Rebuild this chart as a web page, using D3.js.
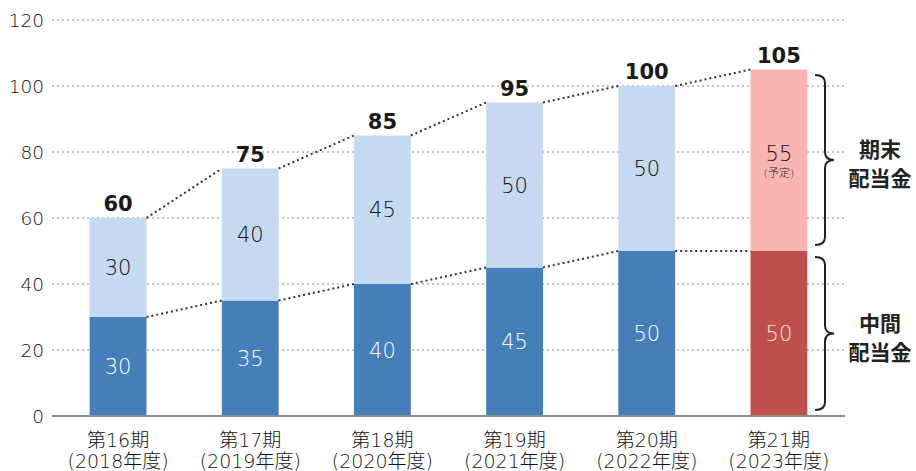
<!DOCTYPE html>
<html><head><meta charset="utf-8">
<script src="https://cdn.jsdelivr.net/npm/d3@7"></script>
<style>body{margin:0;background:#fff}svg{display:block}text{font-family:"DejaVu Sans","Noto Sans CJK JP",sans-serif}.lt{font-weight:200}</style>
</head><body><svg id="c" width="916" height="471"></svg>
<script>
const periods = ["第16期","第17期","第18期","第19期","第20期","第21期"];
const years = ["(2018年度)","(2019年度)","(2020年度)","(2021年度)","(2022年度)","(2023年度)"];
const interim = [30,35,40,45,50,50];
const yearEnd = [30,40,45,50,50,55];
const totals = [60,75,85,95,100,105];
const yTicks = [0,20,40,60,80,100,120];
const forecastIndex = 5;

const svg = d3.select("#c");
const x = d3.scaleBand().domain(periods).range([52,845]).paddingInner(0.57).paddingOuter(0.285);
const y = d3.scaleLinear().domain([0,120]).range([416,20]);

// grid
svg.append("g").selectAll("line").data(yTicks.filter(d=>d>0)).join("line")
  .attr("x1",52).attr("x2",845).attr("y1",d=>y(d)).attr("y2",d=>y(d))
  .attr("stroke","#8a8a8a").attr("stroke-width",1).attr("stroke-dasharray","2,3");
// y labels
svg.append("g").selectAll("text").data(yTicks).join("text").attr("class","lt")
  .attr("x",44).attr("y",d=>y(d)).attr("dy","0.36em").attr("text-anchor","end")
  .attr("font-size",18.5).attr("fill","#111").text(d=>d);

const bw = x.bandwidth();
const colI = (i)=> i===forecastIndex? "#C0504D":"#457EB9";
const colE = (i)=> i===forecastIndex? "#F8B5B2":"#C5D9F1";

// bars
periods.forEach((p,i)=>{
  svg.append("rect").attr("x",x(p)).attr("width",bw).attr("y",y(interim[i])).attr("height",y(0)-y(interim[i])).attr("fill",colI(i));
  svg.append("rect").attr("x",x(p)).attr("width",bw).attr("y",y(totals[i])).attr("height",y(interim[i])-y(totals[i])).attr("fill",colE(i));
});
// axis line
svg.append("line").attr("x1",52).attr("x2",845).attr("y1",y(0)).attr("y2",y(0)).attr("stroke","#8c8c8c").attr("stroke-width",2);

// connecting dotted lines
function connect(vals){
  for(let i=0;i<vals.length-1;i++){
    svg.append("line")
      .attr("x1",x(periods[i])+bw).attr("y1",y(vals[i]))
      .attr("x2",x(periods[i+1])).attr("y2",y(vals[i+1]))
      .attr("stroke","#333").attr("stroke-width",2).attr("stroke-dasharray","2,3");
  }
}
connect(totals);
connect(interim);

// segment labels
periods.forEach((p,i)=>{
  const cx = x(p)+bw/2;
  svg.append("text").attr("class","lt").attr("x",cx).attr("y",y(interim[i]/2)).attr("dy","0.36em").attr("text-anchor","middle")
    .attr("font-size",21).attr("fill",i===forecastIndex?"#fbe3e2":"#fff").text(interim[i]);
  const my = y(interim[i]+yearEnd[i]/2);
  svg.append("text").attr("class","lt").attr("x",cx).attr("y",i===forecastIndex? my-7 : my).attr("dy","0.36em").attr("text-anchor","middle")
    .attr("font-size",21).attr("fill","#111").text(yearEnd[i]);
  if(i===forecastIndex){
    svg.append("text").attr("class","lt").attr("x",cx).attr("y",my+13).attr("dy","0.36em").attr("text-anchor","middle")
      .attr("font-size",11).attr("fill","#222").text("(予定)");
  }
  svg.append("text").attr("x",cx).attr("y",y(totals[i])-7).attr("text-anchor","middle")
    .attr("font-size",21).attr("font-weight",700).attr("fill","#1a1a1a").text(totals[i]);
  svg.append("text").attr("class","lt").attr("x",cx).attr("y",447).attr("text-anchor","middle")
    .attr("font-size",19).attr("fill","#111").text(p);
  svg.append("text").attr("class","lt").attr("x",cx).attr("y",468).attr("text-anchor","middle")
    .attr("font-size",19).attr("fill","#111").text(years[i]);
});

// braces
function brace(top,bot,bx){
  const mid=(top+bot)/2, r=8;
  const path = `M${bx-10},${top} Q${bx},${top} ${bx},${top+r} L${bx},${mid-r} Q${bx},${mid} ${bx+9},${mid} Q${bx},${mid} ${bx},${mid+r} L${bx},${bot-r} Q${bx},${bot} ${bx-10},${bot}`;
  svg.append("path").attr("d",path).attr("fill","none").attr("stroke","#222").attr("stroke-width",2);
  return mid;
}
const m1 = brace(y(totals[forecastIndex])+5.5, y(interim[forecastIndex])-6, 825);
const m2 = brace(y(interim[forecastIndex])+6, y(0)-6, 825);
[["期末","配当金",m1],["中間","配当金",m2]].forEach(([a,b,m])=>{
  svg.append("text").attr("x",880).attr("y",m-3).attr("text-anchor","middle").attr("font-size",21).attr("font-weight",700).attr("fill","#222").text(a);
  svg.append("text").attr("x",880).attr("y",m+26).attr("text-anchor","middle").attr("font-size",21).attr("font-weight",700).attr("fill","#222").text(b);
});
</script></body></html>
